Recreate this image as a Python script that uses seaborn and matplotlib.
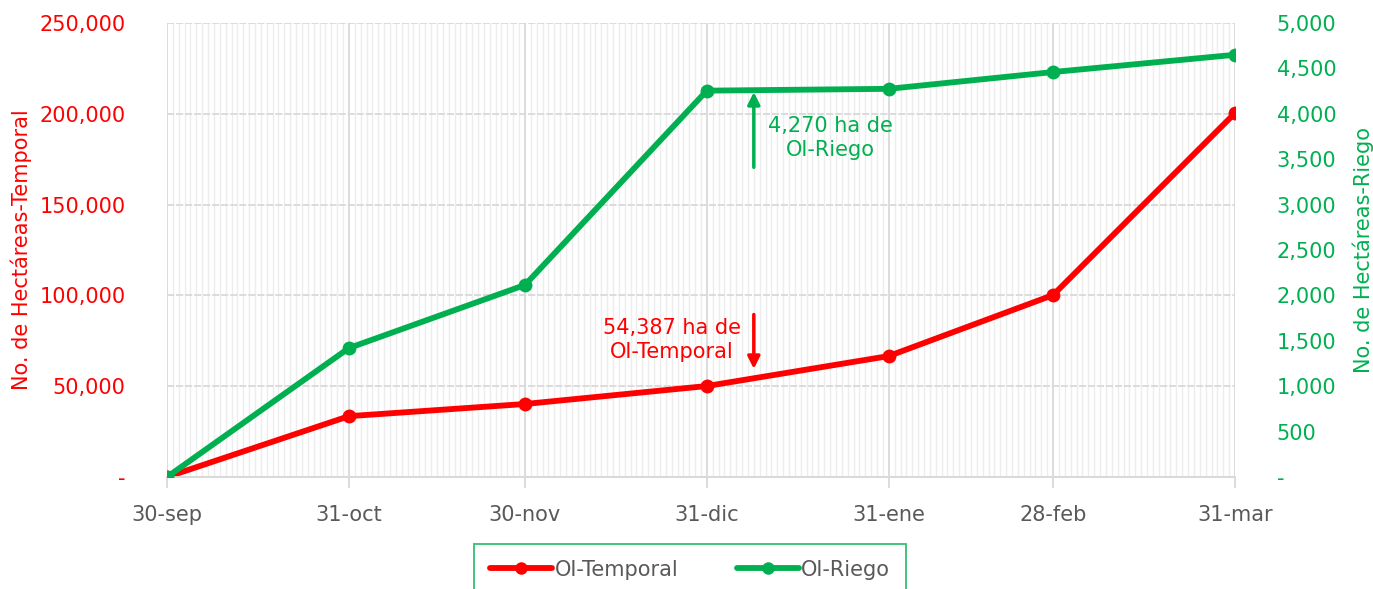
import matplotlib
matplotlib.use("Agg")
import matplotlib.pyplot as plt
import matplotlib.dates as mdates
import matplotlib.ticker as mticker
from matplotlib.lines import Line2D
import seaborn as sns
import pandas as pd

sns.set_theme(style="white")
plt.rcParams['font.family'] = ['DejaVu Sans']

fechas = ["2020-09-30", "2020-10-31", "2020-11-30", "2020-12-31", "2021-01-31", "2021-02-28", "2021-03-31"]
etiquetas = ["30-sep", "31-oct", "30-nov", "31-dic", "31-ene", "28-feb", "31-mar"]
temporal = [0, 33500, 40200, 50100, 66600, 100200, 200400]
riego = [0, 1420, 2115, 4255, 4275, 4460, 4650]

RED = "#FF0000"
GREEN = "#00B050"
GRAY = "#595959"
FS = 15

df = pd.DataFrame({"fecha": pd.to_datetime(fechas), "temporal": temporal, "riego": riego})

fig = plt.figure(figsize=(13.73, 5.89), dpi=100)
ax = fig.add_axes([167/1373, 1-477/589, (1235-167)/1373, (477-23)/589])
ax2 = ax.twinx()

sns.lineplot(data=df, x="fecha", y="temporal", ax=ax, color=RED, lw=4.2,
             marker="o", markersize=10, markeredgewidth=0, zorder=5)
sns.lineplot(data=df, x="fecha", y="riego", ax=ax2, color=GREEN, lw=4.2,
             marker="o", markersize=10, markeredgewidth=0, zorder=5)

ax.set_ylim(0, 250000)
ax2.set_ylim(0, 5000)
ax.set_xlim(df["fecha"].iloc[0], df["fecha"].iloc[-1])
ax.set_yticks(range(0, 250001, 50000))
ax2.set_yticks(range(0, 5001, 500))

def fmt(v, p):
    return "-" if v == 0 else f"{int(v):,}"
ax.yaxis.set_major_formatter(mticker.FuncFormatter(fmt))
ax2.yaxis.set_major_formatter(mticker.FuncFormatter(fmt))

ax.set_xticks(df["fecha"])
ax.set_xticklabels(etiquetas)
ax.xaxis.set_minor_locator(mdates.DayLocator())

# grids
ax.grid(False)
ax2.grid(False)
ax.grid(axis="x", which="minor", color="#EDEDED", lw=1.0, zorder=0)
ax.grid(axis="x", which="major", color="#D9D9D9", lw=1.3, zorder=0)
ax.grid(axis="y", which="major", color="#D9D9D9", lw=1.3, ls=(0, (4, 1)), zorder=0)
ax.set_axisbelow(True)

for a in (ax, ax2):
    for s in ("top", "right", "left"):
        a.spines[s].set_visible(False)
    a.spines["bottom"].set_color("#D9D9D9")
    a.spines["bottom"].set_linewidth(1.3)

ax.tick_params(axis="x", which="major", colors=GRAY, labelsize=FS, length=8, width=1.3,
               color="#D9D9D9", pad=12, direction="out", bottom=True)
ax.tick_params(axis="x", which="minor", length=0)
ax.tick_params(axis="y", colors=RED, labelsize=FS, length=0, pad=30)
ax2.tick_params(axis="y", colors=GREEN, labelsize=FS, length=0, pad=30)
for t in ax.get_yticklabels():
    t.set_color(RED)
for t in ax2.get_yticklabels():
    t.set_color(GREEN)

ax.set_xlabel("")
ax.set_ylabel("No. de Hectáreas-Temporal", color=RED, fontsize=FS, labelpad=5)
ax2.set_ylabel("No. de Hectáreas-Riego", color=GREEN, fontsize=FS, labelpad=12)

# annotations
xa = pd.Timestamp("2021-01-08")
ax2.annotate("", xy=(xa, 4270), xytext=(xa, 3380),
             arrowprops=dict(arrowstyle="-|>", color=GREEN, lw=2.5, mutation_scale=18))
ax2.text(pd.Timestamp("2021-01-21"), 3730, "4,270 ha de\nOI-Riego", color=GREEN,
         fontsize=FS, ha="center", va="center", multialignment="center", linespacing=1.25)
ax.annotate("", xy=(xa, 58000), xytext=(xa, 91000),
            arrowprops=dict(arrowstyle="-|>", color=RED, lw=2.5, mutation_scale=18))
ax.text(pd.Timestamp("2020-12-25"), 75500, "54,387 ha de\nOI-Temporal", color=RED,
        fontsize=FS, ha="center", va="center", multialignment="center", linespacing=1.25)

handles = [Line2D([], [], color=RED, lw=4.2, marker="o", markersize=9, markeredgewidth=0),
           Line2D([], [], color=GREEN, lw=4.2, marker="o", markersize=9, markeredgewidth=0)]
leg = fig.legend(handles, ["OI-Temporal", "OI-Riego"], loc="upper center",
                 bbox_to_anchor=(690/1373, 1-544/589), ncol=2, fontsize=FS,
                 frameon=True, fancybox=False, borderpad=0.75, borderaxespad=0,
                 handlelength=3.0, handletextpad=0.1, columnspacing=2.8, labelcolor=GRAY)
leg.get_frame().set_edgecolor(GREEN)
leg.get_frame().set_linewidth(1.3)

fig.savefig("out.png", dpi=100)
